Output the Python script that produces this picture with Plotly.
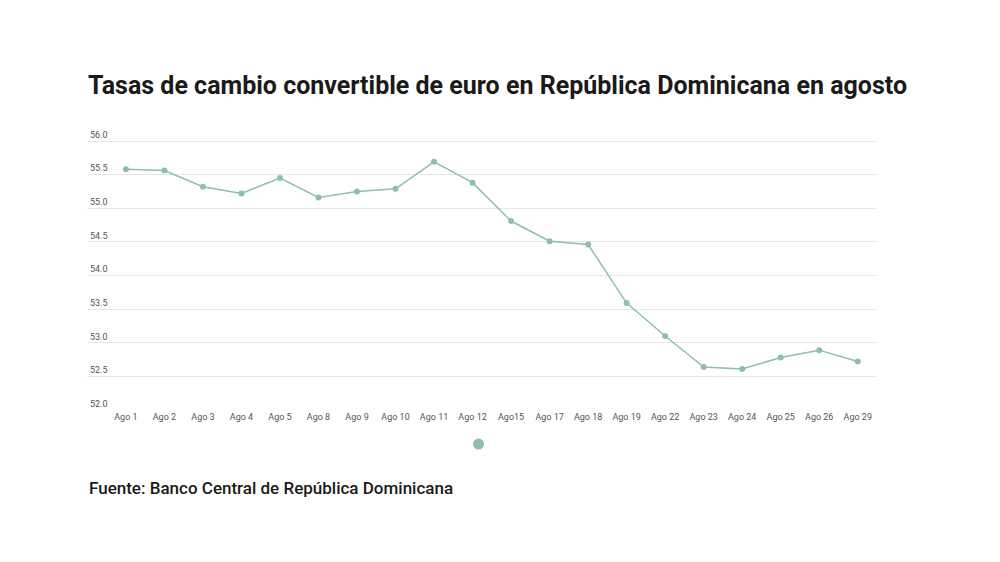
import plotly.graph_objects as go

# Tasas de cambio del euro, agosto
fechas = [
    "Ago 1", "Ago 2", "Ago 3", "Ago 4", "Ago 5", "Ago 8", "Ago 9", "Ago 10",
    "Ago 11", "Ago 12", "Ago15", "Ago 17", "Ago 18", "Ago 19", "Ago 22",
    "Ago 23", "Ago 24", "Ago 25", "Ago 26", "Ago 29",
]
tasas = [
    55.58, 55.56, 55.32, 55.22, 55.45, 55.16, 55.25, 55.29, 55.69, 55.38,
    54.81, 54.51, 54.46, 53.59, 53.10, 52.64, 52.61, 52.78, 52.89, 52.72,
]
y_ticks = [52.0, 52.5, 53.0, 53.5, 54.0, 54.5, 55.0, 55.5, 56.0]

VERDE = "#8dc0a8"

# área del gráfico en px (la página añade 8px de margen al body)
L, R = 79, 869
TOP, BOT = 116, 402
Y56 = 133     # posición de la línea 56.0
PX_Y = 67.25  # px por unidad en el eje y


def py(px):
    return (BOT - px) / (BOT - TOP)


fig = go.Figure()
fig.add_trace(go.Scatter(
    x=fechas, y=tasas, mode="lines+markers",
    line=dict(color=VERDE, width=1.5),
    marker=dict(color=VERDE, size=6),
    showlegend=False,
    hovertemplate="%{x}: %{y:.2f}<extra></extra>",
))
# marcador del legend (solo el punto)
fig.add_trace(go.Scatter(
    x=[None], y=[None], mode="markers", name="",
    marker=dict(color=VERDE, size=11),
    showlegend=True,
))

fig.update_layout(
    width=1000, height=562,
    margin=dict(l=L, r=1000 - R, t=TOP, b=562 - BOT),
    paper_bgcolor="white", plot_bgcolor="white",
    font=dict(family="Roboto", color="#444"),
    title=dict(
        text="Tasas de cambio convertible de euro en República Dominicana en agosto",
        font=dict(family="Roboto", size=25, color="#1a1a1a", weight="bold"),
        xref="container", x=0.080, xanchor="left",
        yref="container", y=1 - 77 / 562, yanchor="middle",
    ),
    xaxis=dict(
        type="category", range=[-1.01, 19.5],
        showgrid=False, zeroline=False, showline=False, ticks="",
        tickfont=dict(size=9, color="#555"),
    ),
    yaxis=dict(
        range=[52, 56 + (Y56 - TOP) / PX_Y], tickvals=y_ticks, tickformat=".1f",
        ticklabelposition="inside top",
        showgrid=True, gridcolor="#e6e6e6", gridwidth=1,
        zeroline=False, showline=False, ticks="",
        tickfont=dict(size=9, color="#555"),
    ),
    legend=dict(
        orientation="h", x=(473 - L) / (R - L), xanchor="center",
        y=py(436), yanchor="middle",
        font=dict(size=10),
    ),
)

fig.add_annotation(
    text="Fuente: Banco Central de República Dominicana",
    xref="paper", yref="paper", x=0, y=py(480),
    xanchor="left", yanchor="middle", showarrow=False,
    font=dict(family="Roboto", size=17, color="#1a1a1a", weight=500),
)

fig.write_html("out.html")
